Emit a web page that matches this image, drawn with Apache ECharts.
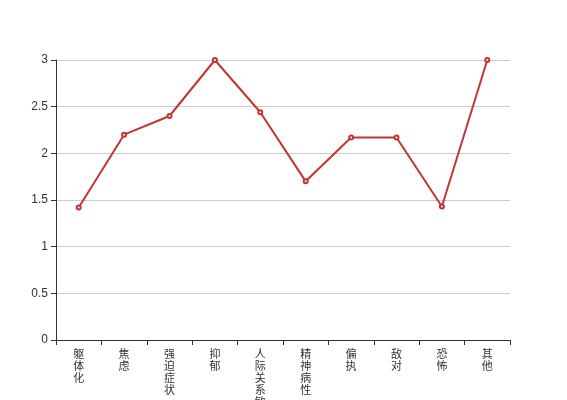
<!DOCTYPE html>
<html><head><meta charset="utf-8">
<script src="https://cdn.jsdelivr.net/npm/echarts@6/dist/echarts.min.js"></script>
<style>html,body{margin:0;padding:0;background:#fff}#c{width:567px;height:400px}</style>
</head><body><div id="c"></div>
<script>
var categories = ['躯体化','焦虑','强迫症状','抑郁','人际关系敏感','精神病性','偏执','敌对','恐怖','其他'];
var values = [1.42, 2.2, 2.4, 3.0, 2.44, 1.7, 2.17, 2.17, 1.43, 3.0];
var yTicks = [0, 0.5, 1, 1.5, 2, 2.5, 3];

var chart = echarts.init(document.getElementById('c'));
chart.setOption({
  animation: false,
  grid: {left: 56, right: 57, top: 60, bottom: 60, containLabel: false, outerBoundsMode: 'none'},
  xAxis: {
    type: 'category',
    data: categories,
    boundaryGap: true,
    axisLine: {lineStyle: {color: '#333'}},
    axisTick: {show: true, length: 5, lineStyle: {color: '#333'}},
    axisLabel: {
      color: '#333', fontSize: 11, lineHeight: 12, margin: 8, interval: 0,
      fontFamily: 'Noto Sans CJK SC',
      formatter: function (v) { return v.split('').join('\n'); }
    }
  },
  yAxis: {
    type: 'value', min: 0, max: 3, interval: 0.5,
    axisLine: {show: true, lineStyle: {color: '#333'}},
    axisTick: {show: true, length: 5, lineStyle: {color: '#333'}},
    axisLabel: {color: '#333', fontSize: 12, fontFamily: 'Liberation Sans',
      formatter: function (v) { return yTicks.indexOf(v) >= 0 ? String(v) : ''; }},
    splitLine: {lineStyle: {color: '#ccc'}}
  },
  series: [{
    type: 'line',
    data: values,
    symbol: 'emptyCircle',
    symbolSize: 4,
    lineStyle: {color: '#c23531', width: 2},
    itemStyle: {color: '#c23531'}
  }]
});
</script></body></html>
